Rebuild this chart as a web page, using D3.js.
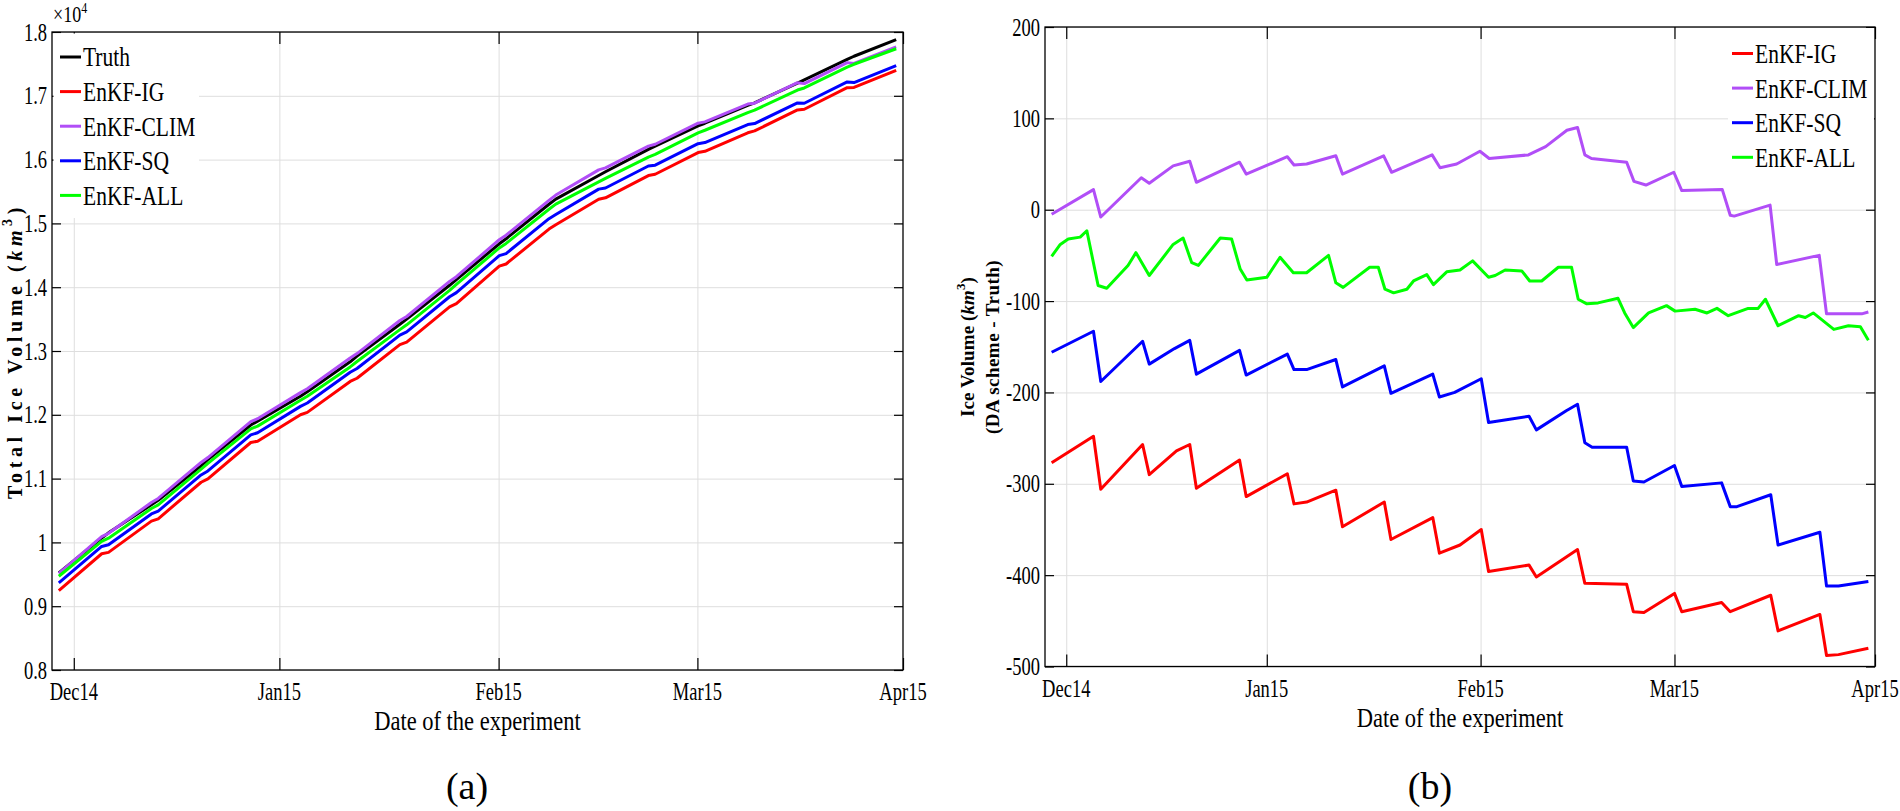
<!DOCTYPE html>
<html>
<head>
<meta charset="utf-8">
<script src="https://cdn.jsdelivr.net/npm/d3@7"></script>
<style>
  html, body { margin: 0; padding: 0; background: #fff; }
  svg { display: block; }
</style>
</head>
<body>
<div id="chart"></div>
<script>
// ---- data ----
// x is "day of experiment"; tick days are where the month labels sit
var tickDays = [3.2, 33.4, 65.6, 94.8, 125];
var tickNames = ["Dec14", "Jan15", "Feb15", "Mar15", "Apr15"];

var volTicks = [0.8, 0.9, 1.0, 1.1, 1.2, 1.3, 1.4, 1.5, 1.6, 1.7, 1.8];
var diffTicks = [-500, -400, -300, -200, -100, 0, 100, 200];

// panel (a): total ice volume, units of 1e4 km^3
var leftDays = [1, 7.3, 8.3, 14.6, 15.6, 21.9, 22.9, 29.2, 30.2, 36.5, 37.5, 43.8, 44.8, 51.1, 52.1, 58.4, 59.4,
  65.7, 66.7, 73.0, 74.0, 80.3, 81.3, 87.6, 88.6, 94.9, 95.9, 102.2, 103.2, 109.5, 110.5, 116.8, 117.8, 124];
var volTruth = [0.952, 1.007, 1.015, 1.059, 1.066, 1.120, 1.130, 1.184, 1.190, 1.229, 1.236, 1.283, 1.292, 1.342, 1.350, 1.403, 1.412,
  1.468, 1.476, 1.530, 1.538, 1.575, 1.581, 1.616, 1.621, 1.653, 1.657, 1.685, 1.689, 1.720, 1.725, 1.757, 1.762, 1.788];
var volIG = [0.9243, 0.9822, 0.9844, 1.0333, 1.0370, 1.0943, 1.0995, 1.1566, 1.1586, 1.2001, 1.2038, 1.2523, 1.2573, 1.3100, 1.3139, 1.3693, 1.3744,
  1.4330, 1.4364, 1.4911, 1.4978, 1.5378, 1.5401, 1.5750, 1.5770, 1.6110, 1.6130, 1.6420, 1.6450, 1.6778, 1.6789, 1.7127, 1.7132, 1.7400];
var volCLIM = [0.9515, 1.0091, 1.0142, 1.0625, 1.0689, 1.1253, 1.1330, 1.1892, 1.1939, 1.2348, 1.2409, 1.2889, 1.2959, 1.3479, 1.3541, 1.4090, 1.4165,
  1.4744, 1.4816, 1.5361, 1.5444, 1.5839, 1.5870, 1.6212, 1.6241, 1.6571, 1.6591, 1.6871, 1.6884, 1.7205, 1.7191, 1.7520, 1.7506, 1.7768];
var volSQ = [0.9364, 0.9937, 0.9962, 1.0446, 1.0491, 1.1057, 1.1120, 1.1686, 1.1719, 1.2132, 1.2185, 1.2666, 1.2726, 1.3249, 1.3299, 1.3850, 1.3915,
  1.4495, 1.4527, 1.5074, 1.5139, 1.5537, 1.5555, 1.5900, 1.5913, 1.6250, 1.6267, 1.6550, 1.6565, 1.6888, 1.6883, 1.7217, 1.7208, 1.7473];
var volALL = [0.9469, 1.0015, 1.0066, 1.0532, 1.0588, 1.1148, 1.1239, 1.1780, 1.1823, 1.2229, 1.2291, 1.2750, 1.2835, 1.3335, 1.3410, 1.3949, 1.4045,
  1.4615, 1.4686, 1.5222, 1.5302, 1.5652, 1.5707, 1.6040, 1.6081, 1.6419, 1.6460, 1.6737, 1.6775, 1.7090, 1.7123, 1.7450, 1.7494, 1.7737];

// panel (b): DA scheme minus truth, km^3, [day, value]
var diffIG = [[1,-277],[7.3,-248],[8.4,-306],[14.7,-257],[15.7,-290],[19.8,-264],[21.8,-257],[22.8,-305],[29.3,-274],[30.3,-314],
  [36.5,-289],[37.5,-322],[39.4,-320],[43.8,-307],[44.8,-347],[51.1,-320],[52.1,-361],[58.4,-337],[59.4,-376],[62.5,-367],
  [65.7,-350],[66.8,-396],[72.9,-389],[74.0,-402],[80.2,-372],[81.3,-409],[87.6,-410],[88.6,-440],[90.2,-441],[94.8,-420],
  [95.9,-440],[101.9,-430],[103.2,-440],[109.3,-422],[110.4,-461],[116.7,-443],[117.7,-488],[119.5,-487],[124,-480]];
var diffCLIM = [[1,-5],[7.3,22],[8.4,-8],[14.5,35],[15.7,29],[19.3,48],[21.8,53],[22.8,30],[29.3,52],[30.3,39],
  [36.5,58],[37.5,49],[39.4,50],[43.8,59],[44.8,39],[51.0,59],[52.2,41],[58.3,60],[59.5,46],[62,50],
  [65.5,64],[66.9,56],[72.8,60],[75.4,69],[78.6,87],[80.2,90],[81.3,60],[82.3,56],[87.6,52],[88.7,31],
  [90.5,27],[94.7,41],[95.9,21],[102,22],[103.2,-6],[103.8,-7],[109.2,5],[110.2,-60],[116.6,-50],[117.7,-114],
  [123,-114],[124,-112]];
var diffSQ = [[1,-156],[7.3,-133],[8.4,-188],[14.7,-144],[15.7,-169],[19.5,-152],[21.8,-143],[22.8,-180],[29.3,-154],[30.3,-181],
  [36.5,-158],[37.5,-175],[39.4,-175],[43.8,-164],[44.8,-194],[51.1,-171],[52.1,-201],[58.4,-180],[59.4,-205],[61.7,-200],
  [65.7,-185],[66.8,-233],[72.9,-226],[74.0,-241],[78.5,-220],[80.2,-213],[81.3,-255],[82.4,-260],[87.6,-260],[88.6,-297],
  [90.2,-298],[94.8,-280],[95.9,-303],[101.9,-299],[103.2,-325],[104.2,-325],[109.3,-312],[110.4,-367],[116.7,-353],[117.7,-412],
  [119.5,-412],[124,-407]];
var diffALL = [[1,-51],[2.3,-38],[3.5,-32],[5.3,-30],[6.3,-23],[8.0,-83],[9.3,-86],[12.5,-61],[13.7,-47],[15.7,-72],
  [19.3,-38],[20.8,-31],[22.1,-58],[23.1,-61],[24.3,-50],[26.4,-31],[28.1,-32],[29.4,-65],[30.4,-77],[33.4,-74],
  [35.4,-52],[37.4,-69],[39.4,-69],[42.7,-50],[43.8,-80],[44.9,-85],[48.9,-63],[50.2,-63],[51.2,-87],[52.5,-91],
  [54.5,-87],[55.5,-78],[57.5,-71],[58.5,-82],[60.5,-68],[62.5,-66],[64.4,-56],[66.8,-74],[67.8,-72],[69.3,-66],
  [71.8,-67],[73.0,-78],[74.8,-78],[77.3,-63],[79.3,-63],[80.3,-98],[81.6,-103],[83.3,-102],[86.3,-97],[87.3,-113],
  [88.6,-129],[90.9,-113],[93.6,-105],[94.9,-111],[97.9,-109],[99.7,-113],[101.2,-108],[102.9,-116],[105.9,-108],[107.4,-108],
  [108.5,-98],[110.4,-127],[113.5,-116],[114.5,-118],[115.7,-113],[118.8,-131],[121.0,-127],[122.8,-128],[124.0,-143]];

var names = ["Truth", "EnKF-IG", "EnKF-CLIM", "EnKF-SQ", "EnKF-ALL"];
var colors = ["#000000", "#ff0000", "#b14ef7", "#0000ff", "#00ff00"];

// ---- setup ----
var SERIF = "'Liberation Serif', 'DejaVu Serif', serif";
var W = 1900, H = 811;

var svg = d3.select("#chart").append("svg")
  .attr("width", W).attr("height", H);

function txt(g, x, y, s, o) {
  o = o || {};
  return g.append("text")
    .attr("transform", "translate(" + x + "," + y + ") scale(1," + (o.sy || 1) + ")")
    .attr("text-anchor", o.anchor || "start")
    .attr("dominant-baseline", o.base || "central")
    .style("font-family", SERIF)
    .style("font-size", o.size + "px")
    .style("font-weight", o.weight || "normal")
    .attr("fill", "#000")
    .text(s);
}

// stretch a (rotated) label out to a given length with letter spacing
function fitLength(sel, target) {
  var node = sel.node();
  var len = node.getComputedTextLength();
  var n = node.textContent.length;
  sel.style("letter-spacing", ((target - len) / n) + "px");
}

function panel(p) {
  var x = d3.scaleLinear().domain([0, 125]).range([p.left, p.right]);
  var y = d3.scaleLinear().domain(p.ydom).range([p.bottom, p.top]);
  var h = p.bottom - p.top, w = p.right - p.left;
  var g = svg.append("g");

  // grid
  g.append("g").attr("transform", "translate(0," + p.bottom + ")")
    .call(d3.axisBottom(x).tickValues(tickDays.slice(0, 4)).tickSize(-h).tickFormat(""))
    .call(function(a){ a.select(".domain").remove(); a.selectAll("line").attr("stroke", "#dedede"); });
  g.append("g").attr("transform", "translate(" + p.left + ",0)")
    .call(d3.axisLeft(y).tickValues(p.yticks).tickSize(-w).tickFormat(""))
    .call(function(a){ a.select(".domain").remove(); a.selectAll("line").attr("stroke", "#dedede"); });

  // lines
  var line = d3.line().x(function(d){ return x(d[0]); }).y(function(d){ return y(d[1]); });
  p.series.forEach(function(s) {
    g.append("path").datum(s.pts)
      .attr("d", line)
      .attr("fill", "none")
      .attr("stroke", s.color)
      .attr("stroke-width", 3)
      .attr("stroke-linejoin", "round");
  });

  // inward ticks on all four sides
  function tickStyle(a){ a.select(".domain").remove(); a.selectAll("line").attr("stroke", "#000").attr("stroke-width", 1.2); }
  g.append("g").attr("transform", "translate(0," + p.bottom + ")")
    .call(d3.axisBottom(x).tickValues(tickDays).tickSize(-12).tickFormat("")).call(tickStyle);
  g.append("g").attr("transform", "translate(0," + p.top + ")")
    .call(d3.axisTop(x).tickValues(tickDays).tickSize(-12).tickFormat("")).call(tickStyle);
  g.append("g").attr("transform", "translate(" + p.left + ",0)")
    .call(d3.axisLeft(y).tickValues(p.yticks).tickSize(-9).tickFormat("")).call(tickStyle);
  g.append("g").attr("transform", "translate(" + p.right + ",0)")
    .call(d3.axisRight(y).tickValues(p.yticks).tickSize(-9).tickFormat("")).call(tickStyle);

  // box
  g.append("rect").attr("x", p.left).attr("y", p.top).attr("width", w).attr("height", h)
    .attr("fill", "none").attr("stroke", "#000").attr("stroke-width", 1.3);

  // tick labels
  tickDays.forEach(function(d, i) {
    txt(g, x(d), p.bottom + 21.5, tickNames[i], {size: 18.5, sy: 1.4, anchor: "middle"});
  });
  p.yticks.forEach(function(v) {
    txt(g, p.left - 5, y(v), p.yfmt(v), {size: 18.5, sy: 1.4, anchor: "end"});
  });

  // x title
  txt(g, (p.left + p.right) / 2, p.bottom + 51, "Date of the experiment", {size: 22.5, sy: 1.22, anchor: "middle"});
  // panel letter
  txt(g, p.letterX, 786, p.letter, {size: 38, anchor: "middle"});

  // legend
  var lg = g.append("g");
  lg.append("rect").attr("x", p.leg.x0).attr("y", p.leg.y0)
    .attr("width", p.leg.x1 - p.leg.x0).attr("height", p.leg.y1 - p.leg.y0).attr("fill", "#fff");
  p.series.forEach(function(s, i) {
    var cy = p.leg.first + i * 34.6;
    lg.append("line").attr("x1", p.leg.lx).attr("x2", p.leg.lx + 21)
      .attr("y1", cy).attr("y2", cy).attr("stroke", s.color).attr("stroke-width", 3);
    txt(lg, p.leg.lx + 23, cy, s.name, {size: 21.5, sy: 1.28});
  });
  return {x: x, y: y, g: g};
}

// ---- panel (a) ----
var leftSeries = [volTruth, volIG, volCLIM, volSQ, volALL].map(function(arr, i) {
  return {name: names[i], color: colors[i], pts: leftDays.map(function(d, j){ return [d, arr[j]]; })};
});
var pa = panel({
  left: 52, right: 903, top: 32, bottom: 670,
  ydom: [0.8, 1.8], yticks: volTicks,
  yfmt: function(v){ return v === 1 ? "1" : v.toFixed(1); },
  series: leftSeries, letter: "(a)", letterX: 467,
  leg: {x0: 53.5, x1: 199, y0: 33.5, y1: 218, lx: 60, first: 57}
});

// x10^4 multiplier
var mul = txt(pa.g, 53, 22, "\u00d710", {size: 18, sy: 1.3, base: "alphabetic"});
mul.append("tspan").attr("dy", -7).style("font-size", "12px").text("4");

// y title (a)
var ya = pa.g.append("text")
  .attr("transform", "translate(14.5,351) rotate(-90)")
  .attr("text-anchor", "middle").attr("dominant-baseline", "central")
  .style("font-family", SERIF).style("font-size", "20px").style("font-weight", "bold");
ya.append("tspan").text("Total Ice Volume (");
ya.append("tspan").style("font-style", "italic").text("km");
ya.append("tspan").attr("dy", -8).style("font-size", "14px").text("3");
ya.append("tspan").attr("dy", 8).text(")");
fitLength(ya, 296);

// ---- panel (b) ----
var rightSeries = [diffIG, diffCLIM, diffSQ, diffALL].map(function(arr, i) {
  return {name: names[i + 1], color: colors[i + 1], pts: arr};
});
var pb = panel({
  left: 1045, right: 1875, top: 27, bottom: 666.5,
  ydom: [-500, 200], yticks: diffTicks,
  yfmt: function(v){ return String(v); },
  series: rightSeries, letter: "(b)", letterX: 1430,
  leg: {x0: 1728, x1: 1874, y0: 28, y1: 185, lx: 1732, first: 53.5}
});

// y title (b), two lines
var yb1 = pb.g.append("text")
  .attr("transform", "translate(967,347) rotate(-90)")
  .attr("text-anchor", "middle").attr("dominant-baseline", "central")
  .style("font-family", SERIF).style("font-size", "19px").style("font-weight", "bold");
yb1.append("tspan").text("Ice Volume (");
yb1.append("tspan").style("font-style", "italic").text("km");
yb1.append("tspan").attr("dy", -7).style("font-size", "13px").text("3");
yb1.append("tspan").attr("dy", 7).text(")");
fitLength(yb1, 140);

var yb2 = pb.g.append("text")
  .attr("transform", "translate(992,347) rotate(-90)")
  .attr("text-anchor", "middle").attr("dominant-baseline", "central")
  .style("font-family", SERIF).style("font-size", "19px").style("font-weight", "bold")
  .text("(DA scheme - Truth)");
fitLength(yb2, 174);
</script>
</body>
</html>
